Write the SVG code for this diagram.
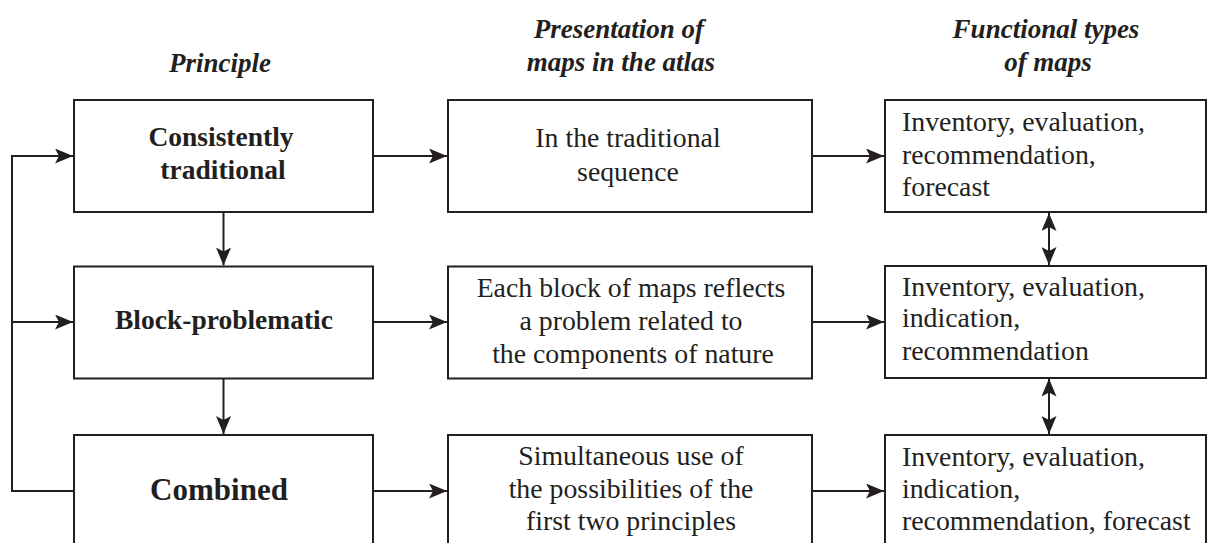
<svg xmlns="http://www.w3.org/2000/svg" width="1208" height="543" viewBox="0 0 1208 543">
<style>
.box{fill:#ffffff;stroke:#231f20;stroke-width:2}
.ln{fill:none;stroke:#231f20;stroke-width:2}
.hd{font-family:"Liberation Serif","Times New Roman",serif;font-style:italic;font-weight:bold;font-size:27px;fill:#231f20;text-anchor:middle}
.bt{font-family:"Liberation Serif","Times New Roman",serif;font-weight:bold;font-size:27.5px;fill:#231f20;text-anchor:middle}
.tx{font-family:"Liberation Serif","Times New Roman",serif;font-size:27.8px;fill:#231f20;text-anchor:middle}
.tl{font-family:"Liberation Serif","Times New Roman",serif;font-size:27.8px;fill:#231f20}
</style>
<defs>
<marker id="ah" viewBox="0 0 18 15" refX="18" refY="7.5" markerWidth="18" markerHeight="15" markerUnits="userSpaceOnUse" orient="auto-start-reverse">
<path d="M0,0 L18,7.5 L0,15 L4,7.5 Z" fill="#231f20"/>
</marker>
</defs>
<rect width="1208" height="543" fill="#ffffff"/>
<g id="headers">
<text class="hd" x="220" y="72">Principle</text>
<text class="hd" x="619" y="38">Presentation of</text>
<text class="hd" x="621" y="71">maps in the atlas</text>
<text class="hd" x="1046" y="38">Functional types</text>
<text class="hd" x="1048" y="71">of maps</text>
</g>
<g id="connectors">
<path class="ln" d="M74,491 H12 V156 H73" marker-end="url(#ah)"/>
<path class="ln" d="M12,322 H73" marker-end="url(#ah)"/>
<path class="ln" d="M223.5,212 V265.5" marker-end="url(#ah)"/>
<path class="ln" d="M223.5,378.5 V434" marker-end="url(#ah)"/>
<path class="ln" d="M373,156 H447" marker-end="url(#ah)"/>
<path class="ln" d="M373,322 H447" marker-end="url(#ah)"/>
<path class="ln" d="M373,491 H447" marker-end="url(#ah)"/>
<path class="ln" d="M812,156 H884" marker-end="url(#ah)"/>
<path class="ln" d="M812,322 H884" marker-end="url(#ah)"/>
<path class="ln" d="M812,491 H884" marker-end="url(#ah)"/>
<path class="ln" d="M1049,213 V265" marker-start="url(#ah)" marker-end="url(#ah)"/>
<path class="ln" d="M1049,378.5 V434" marker-start="url(#ah)" marker-end="url(#ah)"/>
</g>
<g id="p1">
<rect class="box" x="74" y="100" width="299" height="112"/>
<text class="bt" x="221" y="146">Consistently</text>
<text class="bt" x="223" y="179">traditional</text>
</g>
<g id="p2">
<rect class="box" x="74" y="266.5" width="299" height="112"/>
<text class="bt" x="224" y="329">Block-problematic</text>
</g>
<g id="p3">
<rect class="box" x="74" y="435" width="299" height="130"/>
<text class="bt" x="219" y="500" style="font-size:31px">Combined</text>
</g>
<g id="m1">
<rect class="box" x="448" y="100" width="364" height="112"/>
<text class="tx" x="628" y="146.5">In the traditional</text>
<text class="tx" x="628" y="181">sequence</text>
</g>
<g id="m2">
<rect class="box" x="448" y="266.5" width="364" height="112"/>
<text class="tx" x="631" y="296.5">Each block of maps reflects</text>
<text class="tx" x="631" y="330">a problem related to</text>
<text class="tx" x="633" y="363">the components of nature</text>
</g>
<g id="m3">
<rect class="box" x="448" y="435" width="364" height="130"/>
<text class="tx" x="631" y="465">Simultaneous use of</text>
<text class="tx" x="631" y="498">the possibilities of the</text>
<text class="tx" x="631" y="530">first two principles</text>
</g>
<g id="f1">
<rect class="box" x="885" y="100" width="321" height="112"/>
<text class="tl" x="902" y="131">Inventory, evaluation,</text>
<text class="tl" x="902" y="163.5">recommendation,</text>
<text class="tl" x="902" y="196">forecast</text>
</g>
<g id="f2">
<rect class="box" x="885" y="266" width="321" height="112"/>
<text class="tl" x="902" y="296">Inventory, evaluation,</text>
<text class="tl" x="902" y="327">indication,</text>
<text class="tl" x="902" y="360">recommendation</text>
</g>
<g id="f3">
<rect class="box" x="885" y="435" width="321" height="130"/>
<text class="tl" x="902" y="466">Inventory, evaluation,</text>
<text class="tl" x="902" y="498">indication,</text>
<text class="tl" x="902" y="530">recommendation, forecast</text>
</g>
</svg>
